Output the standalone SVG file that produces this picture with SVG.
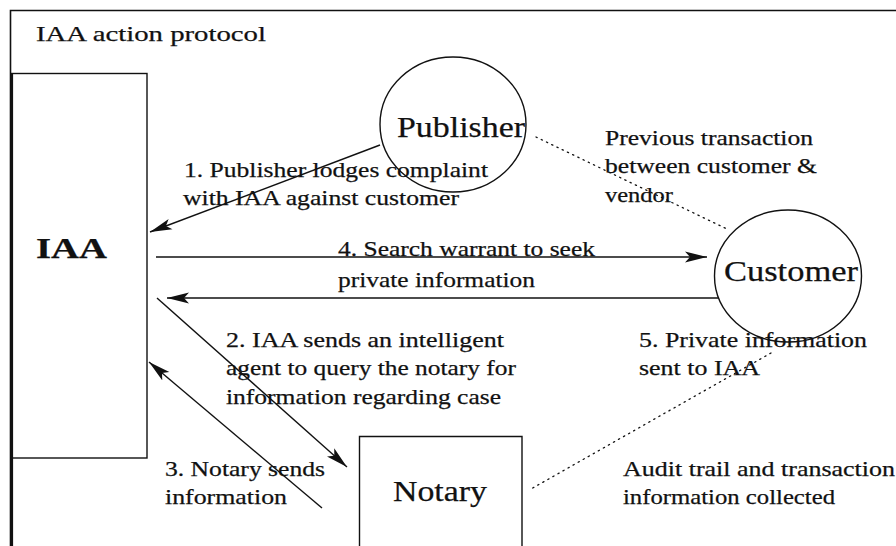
<svg xmlns="http://www.w3.org/2000/svg" width="896" height="546" viewBox="0 0 896 546">
<style>
  .t { font-family: "Liberation Serif", "Times New Roman", Tinos, serif; font-size: 22px; fill: #111; stroke: #111; stroke-width: 0.25; }
  .node { fill: none; stroke: #111; stroke-width: 1.4; }
  .lbl { font-family: "Liberation Serif", "Times New Roman", Tinos, serif; font-size: 29px; fill: #111; stroke: #111; stroke-width: 0.25; }
  .arr { stroke: #111; stroke-width: 1.4; fill: none; marker-end: url(#ah); }
  .dot { stroke: #111; stroke-width: 1.3; fill: none; stroke-dasharray: 1.3 4.5; stroke-linecap: round; }
</style>
<defs>
  <marker id="ah" viewBox="0 0 22 12" refX="22" refY="6" markerWidth="22" markerHeight="12" markerUnits="userSpaceOnUse" orient="auto">
    <path d="M0,0.5 L22,6 L0,11.5 L5,6 Z" fill="#111"/>
  </marker>
</defs>
<rect width="896" height="546" fill="#fff"/>
<g id="frame">
  <path d="M10.5,546 L10.5,10.5 L896,10.5" fill="none" stroke="#111" stroke-width="1.6"/>
  <text class="t" x="36" y="41" font-size="23" textLength="230" lengthAdjust="spacingAndGlyphs">IAA action protocol</text>
</g>
<g id="IAA">
  <rect class="node" x="11.5" y="73.5" width="135.5" height="384.5"/>
  <line x1="12" y1="73" x2="12" y2="546" stroke="#111" stroke-width="2.2"/>
  <text class="lbl" x="36" y="258" font-size="31" font-weight="bold" textLength="71" lengthAdjust="spacingAndGlyphs">IAA</text>
</g>
<g id="Publisher">
  <ellipse class="node" cx="453" cy="124.5" rx="73" ry="67.5"/>
  <text class="lbl" x="397" y="137" textLength="128" lengthAdjust="spacingAndGlyphs">Publisher</text>
</g>
<g id="Customer">
  <ellipse class="node" cx="788" cy="276" rx="73.5" ry="66"/>
  <text class="lbl" x="724" y="281" textLength="134" lengthAdjust="spacingAndGlyphs">Customer</text>
</g>
<g id="Notary">
  <path class="node" d="M359.5,546 L359.5,436.5 L522,436.5 L522,546"/>
  <text class="lbl" x="393" y="501" textLength="94" lengthAdjust="spacingAndGlyphs">Notary</text>
</g>
<g id="connectors">
  <line class="arr" x1="380" y1="145" x2="150" y2="232"/>
  <line class="arr" x1="156" y1="257" x2="707" y2="257"/>
  <line class="arr" x1="718" y1="298" x2="167" y2="298"/>
  <line class="arr" x1="157" y1="298" x2="347" y2="467"/>
  <line class="arr" x1="322" y1="508" x2="149" y2="362"/>
  <line class="dot" x1="536" y1="137" x2="729" y2="230"/>
  <line class="dot" x1="771" y1="353" x2="531" y2="489"/>
</g>
<g id="labels">
  <text class="t" x="184" y="177" textLength="304" lengthAdjust="spacingAndGlyphs">1. Publisher lodges complaint</text>
  <text class="t" x="183" y="205" textLength="276" lengthAdjust="spacingAndGlyphs">with IAA against customer</text>
  <text class="t" x="338" y="256" textLength="257" lengthAdjust="spacingAndGlyphs">4. Search warrant to seek</text>
  <text class="t" x="338" y="287" textLength="197" lengthAdjust="spacingAndGlyphs">private information</text>
  <text class="t" x="226" y="347" textLength="278" lengthAdjust="spacingAndGlyphs">2. IAA sends an intelligent</text>
  <text class="t" x="226" y="375" textLength="290" lengthAdjust="spacingAndGlyphs">agent to query the notary for</text>
  <text class="t" x="226" y="404" textLength="275" lengthAdjust="spacingAndGlyphs">information regarding case</text>
  <text class="t" x="165" y="476" textLength="160" lengthAdjust="spacingAndGlyphs">3. Notary sends</text>
  <text class="t" x="165" y="504" textLength="122" lengthAdjust="spacingAndGlyphs">information</text>
  <text class="t" x="605" y="145" textLength="208" lengthAdjust="spacingAndGlyphs">Previous transaction</text>
  <text class="t" x="605" y="173" textLength="212" lengthAdjust="spacingAndGlyphs">between customer &amp;</text>
  <text class="t" x="605" y="202" textLength="68" lengthAdjust="spacingAndGlyphs">vendor</text>
  <text class="t" x="639" y="347" textLength="228" lengthAdjust="spacingAndGlyphs">5. Private information</text>
  <text class="t" x="639" y="375" textLength="121" lengthAdjust="spacingAndGlyphs">sent to IAA</text>
  <text class="t" x="623" y="476" textLength="272" lengthAdjust="spacingAndGlyphs">Audit trail and transaction</text>
  <text class="t" x="623" y="504" textLength="212" lengthAdjust="spacingAndGlyphs">information collected</text>
</g>
</svg>
